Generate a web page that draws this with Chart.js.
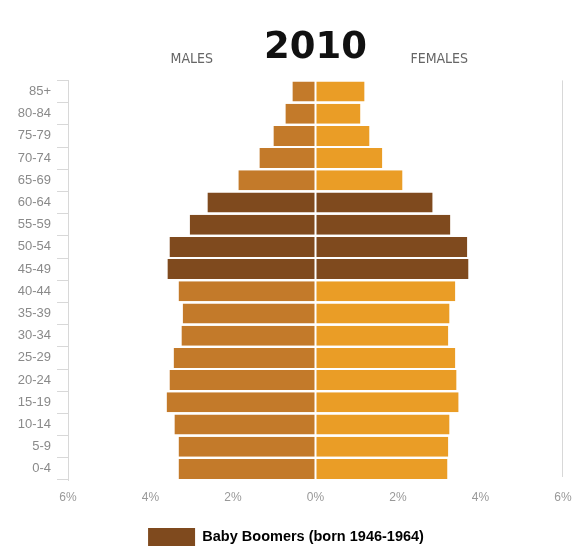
<!DOCTYPE html>
<html>
<head>
<meta charset="utf-8">
<script src="https://cdn.jsdelivr.net/npm/chart.js@4/dist/chart.umd.min.js"></script>
<style>
  html, body { margin: 0; padding: 0; background: #fff; }
  #wrap { width: 572px; height: 550px; }
</style>
</head>
<body>
<div id="wrap"><canvas id="pyramid"></canvas></div>
<script>
// population share by age group, 2010 (percent of total)
const ageGroups = ["85+", "80-84", "75-79", "70-74", "65-69", "60-64", "55-59",
  "50-54", "45-49", "40-44", "35-39", "30-34", "25-29", "20-24", "15-19",
  "10-14", "5-9", "0-4"];
const males = [0.56, 0.73, 1.02, 1.36, 1.87, 2.62, 3.05, 3.54, 3.59, 3.32,
  3.22, 3.25, 3.44, 3.54, 3.61, 3.42, 3.32, 3.32];
const females = [1.19, 1.09, 1.31, 1.62, 2.11, 2.84, 3.27, 3.68, 3.71, 3.39,
  3.25, 3.22, 3.39, 3.42, 3.47, 3.25, 3.22, 3.20];
const boomerGroups = ["60-64", "55-59", "50-54", "45-49"];
const yearTitle = "2010";
const sideLabels = ["MALES", "FEMALES"];
const boomerLabel = "Baby Boomers (born 1946-1964)";
const xTicks = [-6, -4, -2, 0, 2, 4, 6];

const colors = {
  male: "#c37a2a",
  female: "#ea9d26",
  boomer: "#7f4a1e",
  line: "#d8d8d8",
};

const isBoomer = (g) => boomerGroups.includes(g);

// MALES / FEMALES headers and the right frame line
const sideHeaders = {
  id: "sideHeaders",
  afterDraw(chart) {
    const { ctx, chartArea, scales } = chart;
    ctx.save();
    ctx.font = "14px 'DejaVu Sans Condensed', 'Liberation Sans', sans-serif";
    ctx.fillStyle = "#666";
    ctx.textAlign = "center";
    ctx.textBaseline = "middle";
    ctx.fillText(sideLabels[0], scales.x.getPixelForValue(-3), chartArea.top - 21);
    ctx.fillText(sideLabels[1], scales.x.getPixelForValue(3), chartArea.top - 21);
    ctx.strokeStyle = colors.line;
    ctx.lineWidth = 1;
    ctx.beginPath();
    ctx.moveTo(chartArea.right - 0.5, chartArea.top);
    ctx.lineTo(chartArea.right - 0.5, chartArea.bottom - 3);
    ctx.stroke();
    ctx.restore();
  }
};

new Chart(document.getElementById("pyramid"), {
  type: "bar",
  data: {
    labels: ageGroups,
    datasets: [
      {
        label: "Males",
        data: males.map(v => -v),
        backgroundColor: ageGroups.map(g => isBoomer(g) ? colors.boomer : colors.male),
        borderColor: "#fff",
        borderWidth: { top: 0, right: 1, bottom: 0, left: 0 },
        borderSkipped: false,
        barPercentage: 0.9,
        categoryPercentage: 1,
      },
      {
        label: "Females",
        data: females,
        backgroundColor: ageGroups.map(g => isBoomer(g) ? colors.boomer : colors.female),
        borderColor: "#fff",
        borderWidth: { top: 0, right: 0, bottom: 0, left: 1 },
        borderSkipped: false,
        barPercentage: 0.9,
        categoryPercentage: 1,
      },
    ],
  },
  options: {
    indexAxis: "y",
    responsive: true,
    maintainAspectRatio: false,
    animation: false,
    layout: { padding: { left: 0, right: 0, top: 0, bottom: -6 } },
    scales: {
      x: {
        stacked: true,
        min: -6,
        max: 6,
        afterBuildTicks(scale) {
          scale.ticks = xTicks.map(v => ({ value: v }));
        },
        afterFit(scale) {
          scale.height = 44;
          scale.paddingLeft = 0;
          scale.paddingRight = 9;
        },
        grid: { display: false, drawTicks: false },
        border: { display: false },
        ticks: {
          padding: 10,
          color: "#999",
          font: { family: "'Liberation Sans', Arial, sans-serif", size: 12 },
          callback: (v) => Math.abs(v) + "%",
        },
      },
      y: {
        stacked: true,
        afterFit(scale) {
          scale.width = 68;
        },
        grid: {
          drawOnChartArea: false,
          color: colors.line,
          tickLength: 11,
        },
        border: { display: true, color: colors.line },
        ticks: {
          padding: 6,
          color: "#8a8a8a",
          font: { family: "'Liberation Sans', Arial, sans-serif", size: 13 },
        },
      },
    },
    plugins: {
      title: {
        display: true,
        text: yearTitle,
        fullSize: false,
        color: "#111",
        font: { family: "'DejaVu Sans', sans-serif", size: 37, weight: "bold" },
        padding: { top: 26, bottom: 10 },
      },
      legend: {
        position: "bottom",
        onClick: null,
        labels: {
          boxWidth: 47,
          boxHeight: 18,
          padding: 4,
          color: "#222",
          font: { family: "'Liberation Sans', Arial, sans-serif", size: 14.5, weight: "bold" },
          generateLabels: () => [{
            text: boomerLabel,
            fillStyle: colors.boomer,
            strokeStyle: colors.boomer,
            lineWidth: 0,
            hidden: false,
            datasetIndex: 0,
          }],
        },
      },
      tooltip: { enabled: false },
    },
  },
  plugins: [sideHeaders],
});
</script>
</body>
</html>
